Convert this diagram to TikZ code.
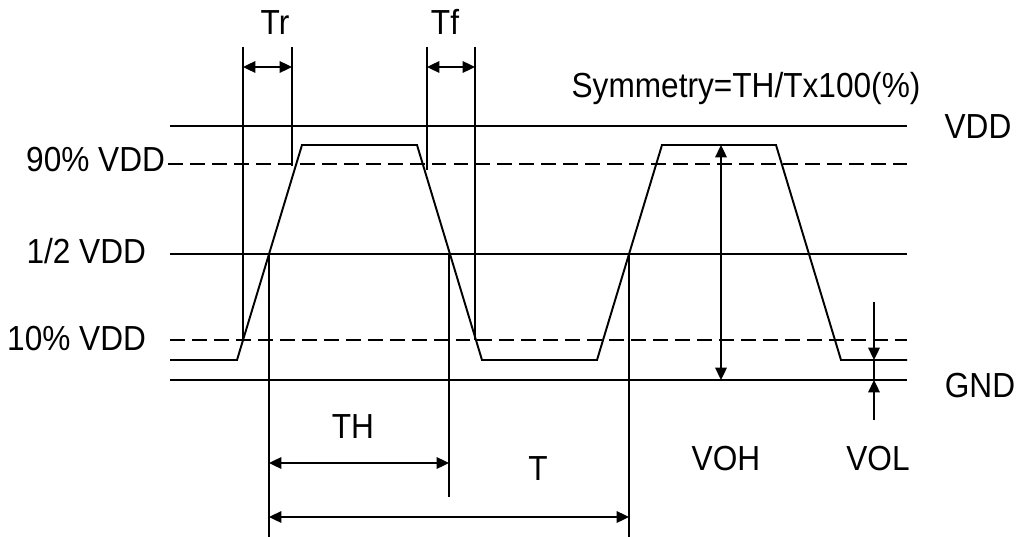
\documentclass[tikz,border=0pt]{standalone}
\usepackage{fontspec}
\setmainfont{Liberation Sans}
\usetikzlibrary{arrows.meta}
\newcommand\stretchtxt[1]{\scalebox{1}[1.1]{#1}}
\begin{document}
\begin{tikzpicture}[x=0.02cm,y=-0.02cm,line width=1.1pt,
  lbl/.style={font=\fontsize{18}{21}\selectfont,inner sep=0pt,anchor=base},
  lblr/.style={lbl,anchor=base east},
  dsh/.style={dash pattern=on 8.5pt off 4pt},
  tip/.style={-{Triangle[length=7pt,width=6.5pt]}},
  dimarrow/.style={{Triangle[length=7pt,width=6.5pt]}-{Triangle[length=7pt,width=6.5pt]}}]
\useasboundingbox (0,0) rectangle (1024,537);
% level lines
\coordinate (vddL) at (170,126); \coordinate (vddR) at (907,126);
\coordinate (n90L) at (168,164); \coordinate (n90R) at (907,164);
\coordinate (halfL) at (170,254); \coordinate (halfR) at (907,254);
\coordinate (n10L) at (170,340); \coordinate (n10R) at (907,340);
\coordinate (gndL) at (170,380); \coordinate (gndR) at (907,380);
\draw (vddL) -- (vddR);
\draw[dsh] (n90L) -- (n90R);
\draw (halfL) -- (halfR);
\draw[dsh] (n10L) -- (n10R);
\draw (gndL) -- (gndR);
% waveform
\coordinate (w0) at (170,360); \coordinate (w1) at (237,360);
\coordinate (w2) at (302,145); \coordinate (w3) at (417,145);
\coordinate (w4) at (482,360); \coordinate (w5) at (597,360);
\coordinate (w6) at (662,145); \coordinate (w7) at (776,145);
\coordinate (w8) at (841,360); \coordinate (w9) at (907,360);
\draw (w0) -- (w1) -- (w2) -- (w3) -- (w4) -- (w5) -- (w6) -- (w7) -- (w8) -- (w9);
% Tr / Tf extension lines
\coordinate (tr1t) at (243,47); \coordinate (tr1b) at (243,340);
\coordinate (tr2t) at (292,47); \coordinate (tr2b) at (292,166);
\coordinate (tf1t) at (427,47); \coordinate (tf1b) at (427,170);
\coordinate (tf2t) at (475,47); \coordinate (tf2b) at (475,340);
\draw (tr1t) -- (tr1b); \draw (tr2t) -- (tr2b);
\draw (tf1t) -- (tf1b); \draw (tf2t) -- (tf2b);
\coordinate (tra) at (243,67); \coordinate (trb) at (292,67);
\coordinate (tfa) at (427,67); \coordinate (tfb) at (475,67);
\draw[dimarrow] (tra) -- (trb);
\draw[dimarrow] (tfa) -- (tfb);
% TH / T extension lines
\coordinate (x1t) at (269,254); \coordinate (x1b) at (269,537);
\coordinate (x2t) at (449,254); \coordinate (x2b) at (449,497);
\coordinate (x3t) at (629,254); \coordinate (x3b) at (629,537);
\draw (x1t) -- (x1b); \draw (x2t) -- (x2b); \draw (x3t) -- (x3b);
\coordinate (tha) at (269,463); \coordinate (thb) at (449,463);
\coordinate (ta) at (269,517); \coordinate (tb) at (629,517);
\draw[dimarrow] (tha) -- (thb);
\draw[dimarrow] (ta) -- (tb);
% VOH
\coordinate (voht) at (721,145); \coordinate (vohb) at (721,380);
\draw[dimarrow] (voht) -- (vohb);
% VOL
\coordinate (vol0) at (874,302); \coordinate (vol1) at (874,360);
\coordinate (vol2) at (874,380); \coordinate (vol3) at (874,420);
\draw[tip] (vol0) -- (vol1);
\draw (vol1) -- (vol2);
\draw[tip] (vol3) -- (vol2);
% labels
\node[lbl] (Tr) at (275,35) {\stretchtxt{Tr}};
\node[lbl] (Tf) at (445,35) {\stretchtxt{Tf}};
\node[lbl] (sym) at (746,97) {\stretchtxt{Symmetry=TH/Tx100(\%)}};
\node[lbl] (VDD) at (978,138) {\stretchtxt{VDD}};
\node[lblr] (l90) at (166,172) {\stretchtxt{90\% VDD}};
\node[lblr] (l50) at (147,263) {\stretchtxt{1/2 VDD}};
\node[lblr] (l10) at (147,350) {\stretchtxt{10\% VDD}};
\node[lbl] (GND) at (980,397) {\stretchtxt{GND}};
\node[lbl] (TH) at (353,438) {\stretchtxt{TH}};
\node[lbl] (T) at (538,480) {\stretchtxt{T}};
\node[lbl] (VOH) at (726,470) {\stretchtxt{VOH}};
\node[lbl] (VOL) at (878,470) {\stretchtxt{VOL}};
\end{tikzpicture}
\end{document}
